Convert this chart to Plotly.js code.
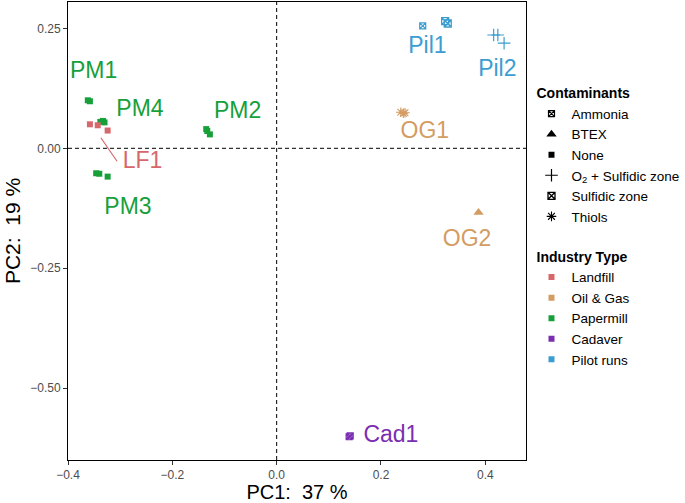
<!DOCTYPE html>
<html>
<head>
<meta charset="utf-8">
<script src="https://cdn.plot.ly/plotly-3.0.1.min.js"></script>
<style>html,body{margin:0;padding:0;background:#fff}#chart{width:685px;height:503px}</style>
</head>
<body>
<div id="chart"></div>
<script>
// ---- data ----
const pc1 = [-0.362, -0.358, -0.338, -0.333, -0.330, -0.358, -0.343, -0.324, -0.346, -0.340, -0.324, -0.135, -0.133, -0.128, 0.280, 0.323, 0.328, 0.416, 0.424, 0.436, 0.238, 0.243, 0.246, 0.387, 0.139, 0.141];
const pc2 = [0.100, 0.098, 0.055, 0.057, 0.054, 0.050, 0.048, 0.037, -0.052, -0.053, -0.059, 0.040, 0.036, 0.029, 0.255, 0.265, 0.260, 0.236, 0.236, 0.219, 0.075, 0.073, 0.074, -0.134, -0.601, -0.599];
const industry = ['Papermill','Papermill','Papermill','Papermill','Papermill','Landfill','Landfill','Landfill','Papermill','Papermill','Papermill','Papermill','Papermill','Papermill','Pilot runs','Pilot runs','Pilot runs','Pilot runs','Pilot runs','Pilot runs','Oil & Gas','Oil & Gas','Oil & Gas','Oil & Gas','Cadaver','Cadaver'];
const contaminant = ['None','None','None','None','None','None','None','None','None','None','None','None','None','None','Ammonia','Sulfidic zone','Sulfidic zone','O2 + Sulfidic zone','O2 + Sulfidic zone','O2 + Sulfidic zone','Thiols','Thiols','Thiols','BTEX','Ammonia','Ammonia'];

const labelText = ['PM1','PM4','PM2','LF1','PM3','Pil1','Pil2','OG1','OG2','Cad1'];
const labelIndustry = ['Papermill','Papermill','Papermill','Landfill','Papermill','Pilot runs','Pilot runs','Oil & Gas','Oil & Gas','Cadaver'];
const labelX = [-0.351, -0.262, -0.075, -0.257, -0.285, 0.289, 0.423, 0.284, 0.365, 0.219];
const labelY = [0.158, 0.080, 0.075, -0.029, -0.124, 0.211, 0.163, 0.034, -0.191, -0.599];

const segX = [-0.337, -0.306];
const segY = [0.022, -0.027];

const contaminantNames = ['Ammonia','BTEX','None','O2 + Sulfidic zone','Sulfidic zone','Thiols'];
const contaminantLegend = ['Ammonia','BTEX','None','O<sub>2</sub> + Sulfidic zone','Sulfidic zone','Thiols'];
const industryNames = ['Landfill','Oil & Gas','Papermill','Cadaver','Pilot runs'];

const xTicks = [-0.4, -0.2, 0.0, 0.2, 0.4];
const yTicks = [0.25, 0.00, -0.25, -0.50];
const xTitle = 'PC1:\u00a0 37 %';
const yTitle = 'PC2:\u00a0 19 %';

// ---- styles ----
const industryColor = {'Landfill':'#d6676a','Oil & Gas':'#d39c62','Papermill':'#17a03a','Cadaver':'#7b2db2','Pilot runs':'#3b9dd0'};
const symbolStyle = {
  'Ammonia': {symbol:'square-x-open', size:6, lw:1.2},
  'BTEX': {symbol:'triangle-up', size:9, lw:0},
  'None': {symbol:'square', size:6, lw:0},
  'O2 + Sulfidic zone': {symbol:'cross-thin-open', size:9, lw:1.2},
  'Sulfidic zone': {symbol:'square-x-open', size:7, lw:1.3},
  'Thiols': {symbol:'asterisk-open', size:8, lw:1.1}
};

const traces = [];
// LF1 connector
traces.push({x:segX, y:segY, mode:'lines', line:{color:industryColor['Landfill'], width:1.2}, showlegend:false, hoverinfo:'skip'});

// points grouped by industry x contaminant
const groups = {};
pc1.forEach((v,i)=>{
  const k = industry[i]+'|'+contaminant[i];
  if(!groups[k]) groups[k] = {x:[],y:[],ind:industry[i],con:contaminant[i]};
  groups[k].x.push(v); groups[k].y.push(pc2[i]);
});
Object.values(groups).forEach(g=>{
  const s = symbolStyle[g.con], c = industryColor[g.ind];
  traces.push({x:g.x, y:g.y, mode:'markers', type:'scatter', showlegend:false,
    marker:{symbol:s.symbol, size:s.size, color:c, line:{color:c, width:s.lw}}});
});

// labels
traces.push({x:labelX, y:labelY, mode:'text', text:labelText, showlegend:false,
  textfont:{family:'Liberation Sans, Arial, sans-serif', size:23, color:labelIndustry.map(d=>industryColor[d])}});

// legend entries
contaminantNames.forEach((n,i)=>{
  const s = symbolStyle[n];
  const t = {x:[null], y:[null], mode:'markers', name:contaminantLegend[i], legendgroup:'cont',
    marker:{symbol:s.symbol, size:s.size, color:'#000', line:{color:'#000', width:s.lw}}};
  if(i===0) t.legendgrouptitle = {text:'<b>Contaminants</b>', font:{size:14, color:'#000'}};
  traces.push(t);
});
industryNames.forEach((n,i)=>{
  const t = {x:[null], y:[null], mode:'markers', name:n, legendgroup:'ind',
    marker:{symbol:'square', size:6, color:industryColor[n]}};
  if(i===0) t.legendgrouptitle = {text:'<b>Industry Type</b>', font:{size:14, color:'#000'}};
  traces.push(t);
});

const layout = {
  width:685, height:503,
  margin:{l:68, r:159, t:2, b:43, autoexpand:false},
  paper_bgcolor:'#fff', plot_bgcolor:'#fff',
  font:{family:'Liberation Sans, Arial, sans-serif', color:'#000'},
  xaxis:{range:[-0.4, 0.478], tickvals:xTicks, ticktext:xTicks.map(v=>v.toFixed(1).replace('-','\u2212')),
    showgrid:false, zeroline:false, showline:true, mirror:true, linecolor:'#000', linewidth:1,
    ticks:'outside', ticklen:4, tickcolor:'#333', tickfont:{size:12, color:'#4d4d4d'}, automargin:false,
    title:{text:xTitle, font:{size:20, color:'#000'}, standoff:6}},
  yaxis:{range:[-0.6494, 0.3048], tickvals:yTicks, ticktext:yTicks.map(v=>v.toFixed(2).replace('-','\u2212')),
    showgrid:false, zeroline:false, showline:true, mirror:true, linecolor:'#000', linewidth:1,
    ticks:'outside', ticklen:4, tickcolor:'#333', tickfont:{size:12, color:'#4d4d4d'}, automargin:false,
    title:{text:yTitle, font:{size:21, color:'#000'}, standoff:3}},
  shapes:[
    {type:'line', xref:'x', yref:'paper', x0:0, x1:0, y0:0, y1:1, line:{color:'#000', width:1, dash:'4px,3px'}},
    {type:'line', xref:'paper', yref:'y', x0:0, x1:1, y0:0, y1:0, line:{color:'#000', width:1, dash:'4px,3px'}}
  ],
  legend:{x:1.012, xanchor:'left', y:0.836, yanchor:'top', font:{size:13.5, color:'#000'},
    tracegroupgap:19, traceorder:'grouped', itemwidth:30, bgcolor:'rgba(0,0,0,0)'},
  hovermode:false
};

Plotly.newPlot('chart', traces, layout, {displayModeBar:false, staticPlot:true});
</script>
</body>
</html>
